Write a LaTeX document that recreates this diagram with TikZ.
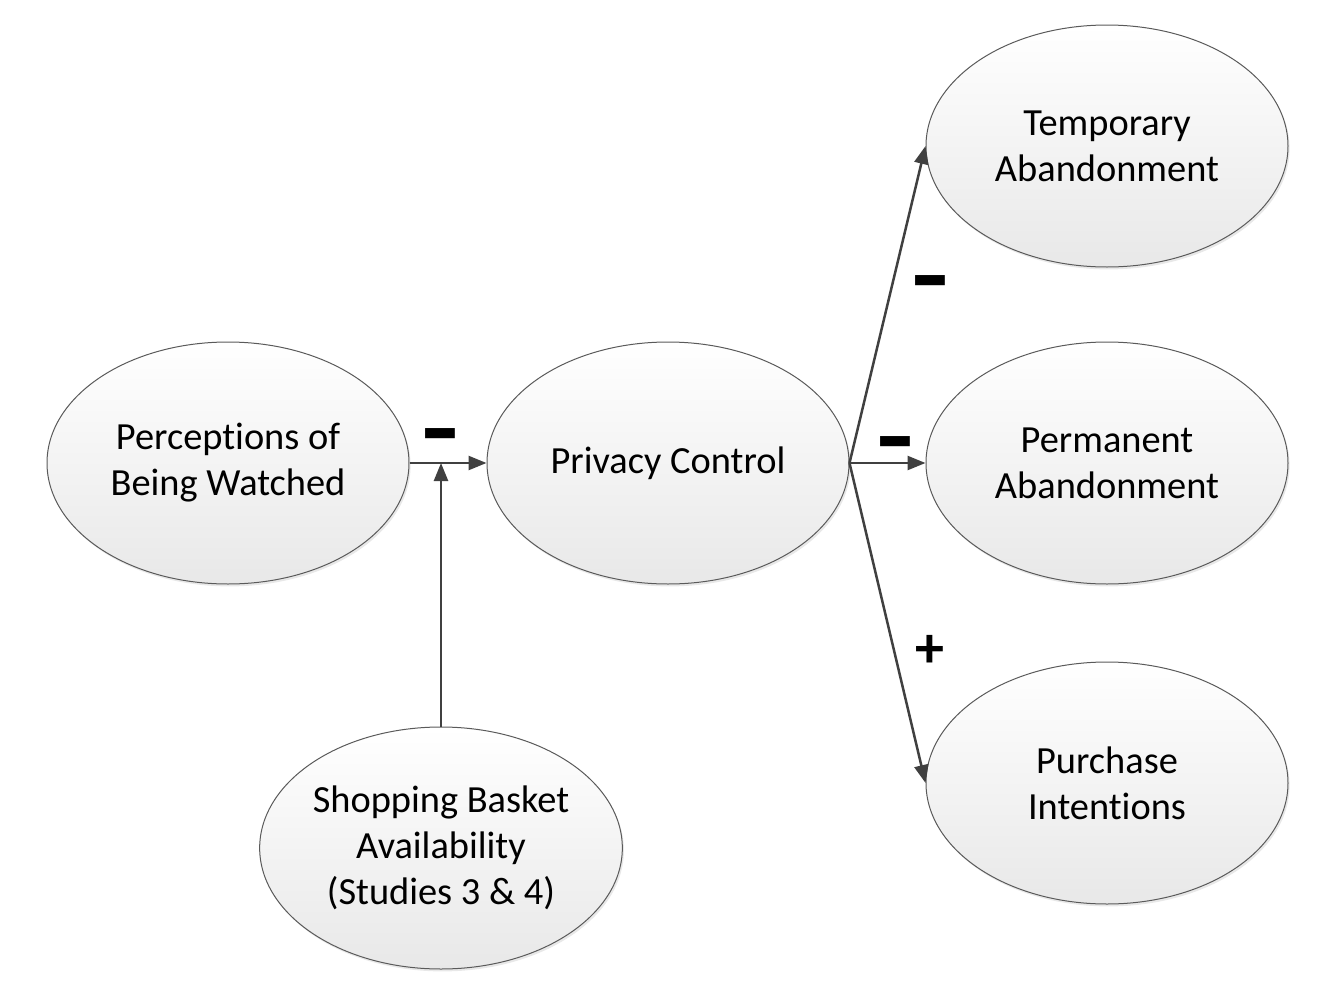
\documentclass[tikz,border=0pt]{standalone}
\usepackage{fontspec}
\setmainfont{Carlito}[Ligatures={NoCommon}]
\usetikzlibrary{shapes.geometric,arrows.meta,shadows}
\definecolor{linegray}{HTML}{404040}
\definecolor{edgegray}{HTML}{5A5A5A}
\begin{document}
\begin{tikzpicture}[x=0.5pt,y=-0.5pt,
  construct/.style={ellipse, draw=edgegray, line width=0.5pt,
    top color=white, bottom color=black!9,
    minimum width=181pt, minimum height=121pt, inner sep=0pt,
    align=center, font=\fontsize{19.2}{23}\selectfont,
    drop shadow={opacity=0.18, shadow xshift=0.8pt, shadow yshift=-1.2pt}},
  link/.style={draw=linegray, line width=1.25pt,
    -{Triangle[length=9pt,width=7pt]}},
  sign/.style={font=\bfseries\fontsize{29}{29}\selectfont, inner sep=0pt},
  minus/.style={sign, yshift=-6.8pt}]
\useasboundingbox (0,0) rectangle (1335,991);
\node[construct] (pw) at (228,463) {Perceptions of\\Being Watched};
\node[construct] (pc) at (668,463) {Privacy Control};
\node[construct] (ta) at (1107,146) {Temporary\\Abandonment};
\node[construct] (pa) at (1107,463) {Permanent\\Abandonment};
\node[construct] (pi) at (1107,783) {Purchase\\Intentions};
\node[construct] (sb) at (441,848) {Shopping Basket\\Availability\\(Studies 3 \& 4)};
\coordinate (j) at (441,463);
\draw[link] (pw.east) -- (pc.west);
\draw[link] (sb.north) -- (j);
\draw[link] (pc.east) -- (ta.west);
\draw[link] (pc.east) -- (pa.west);
\draw[link] (pc.east) -- (pi.west);
\node[minus] (s1) at (440,434) {\scalebox{1.45}[2.0]{–}};
\node[minus] (s2) at (930,281) {\scalebox{1.45}[2.0]{–}};
\node[minus] (s3) at (895,442) {\scalebox{1.45}[2.0]{–}};
\node[sign] (s4) at (930,651) {+};
\end{tikzpicture}
\end{document}
